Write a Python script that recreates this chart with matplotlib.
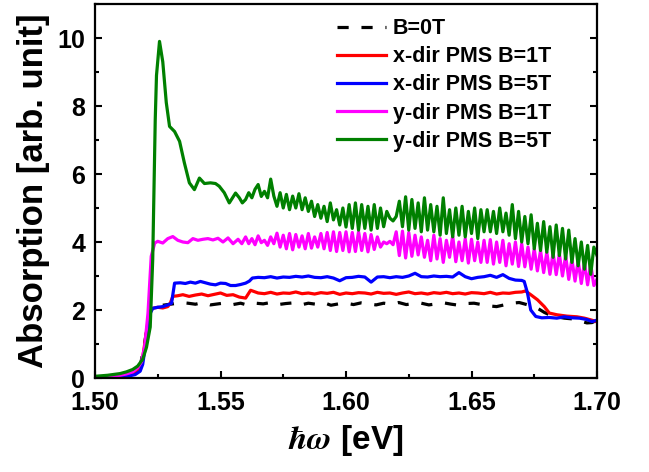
import numpy as np
import matplotlib
matplotlib.use("Agg")
import matplotlib.pyplot as plt
from matplotlib.ticker import MultipleLocator, FormatStrFormatter

plt.rcParams['font.family'] = ['Liberation Sans', 'DejaVu Sans']
plt.rcParams['font.weight'] = 'bold'
plt.rcParams['mathtext.fontset'] = 'stix'

labels = ["B=0T", "x-dir PMS B=1T", "x-dir PMS B=5T", "y-dir PMS B=1T", "y-dir PMS B=5T"]
colors = ["black", "#ff0000", "#0000ff", "#ff00ff", "#008000"]

# ---- B=0T (black dashed)
x_b0 = [1.500, 1.505, 1.510, 1.513, 1.516, 1.518, 1.5195, 1.521, 1.522, 1.523,
        1.525,
        1.528, 1.531, 1.534, 1.537, 1.540, 1.543, 1.546, 1.549, 1.552, 1.555,
        1.558, 1.561, 1.564, 1.567, 1.570, 1.573, 1.576, 1.579, 1.582, 1.585,
        1.588, 1.591, 1.594, 1.597, 1.600, 1.603, 1.606, 1.609, 1.612, 1.615,
        1.618, 1.621, 1.624, 1.627, 1.630, 1.633, 1.636, 1.639, 1.642, 1.645,
        1.648, 1.651, 1.654, 1.657, 1.660, 1.663, 1.666, 1.669, 1.672,
        1.675, 1.677, 1.679, 1.681, 1.684, 1.687, 1.690, 1.693, 1.696, 1.698, 1.700]
y_b0 = [0.02, 0.03, 0.05, 0.08, 0.15, 0.35, 0.9, 1.6, 1.95, 2.08,
        2.12,
        2.15, 2.18, 2.22, 2.20, 2.17, 2.22, 2.15, 2.18, 2.21, 2.16,
        2.20, 2.14, 2.20, 2.18, 2.22, 2.16, 2.19, 2.21, 2.15, 2.20,
        2.17, 2.22, 2.14, 2.18, 2.20, 2.16, 2.21, 2.18, 2.15, 2.20,
        2.17, 2.22, 2.16, 2.19, 2.20, 2.15, 2.18, 2.21, 2.17, 2.14,
        2.19, 2.20, 2.16, 2.12, 2.10, 2.15, 2.20, 2.22, 2.16,
        2.10, 2.02, 1.93, 1.86, 1.80, 1.76, 1.74, 1.68, 1.62, 1.63, 1.70]

# ---- x-dir B=1T (red)
x_x1 = [1.500, 1.505, 1.510, 1.513, 1.516, 1.518, 1.519, 1.520, 1.521, 1.522,
        1.523, 1.525, 1.527, 1.529, 1.530, 1.531, 1.533, 1.535, 1.5375, 1.540,
        1.5425, 1.545, 1.5475, 1.550, 1.5525, 1.555, 1.5575, 1.560, 1.562,
        1.565, 1.5675, 1.570, 1.5725, 1.575, 1.5775, 1.580, 1.5825, 1.585, 1.5875,
        1.590, 1.5925, 1.595, 1.5975, 1.600, 1.6025, 1.605, 1.6075, 1.610, 1.6125,
        1.615, 1.6175, 1.620, 1.6225, 1.625, 1.6275, 1.630, 1.6325, 1.635, 1.6375,
        1.640, 1.6425, 1.645, 1.6475, 1.650, 1.6525, 1.655, 1.6575, 1.660, 1.6625,
        1.665, 1.6675, 1.670,
        1.6715, 1.6736, 1.6763, 1.679, 1.681, 1.684, 1.688, 1.692, 1.695, 1.698, 1.700]
y_x1 = [0.0, 0.02, 0.04, 0.07, 0.14, 0.3, 0.6, 1.1, 1.6, 1.95,
        2.05, 2.08, 2.06, 2.10, 2.20, 2.40, 2.42, 2.45, 2.40, 2.44,
        2.47, 2.42, 2.46, 2.50, 2.43, 2.45, 2.38, 2.35, 2.58,
        2.50, 2.48, 2.52, 2.47, 2.50, 2.49, 2.53, 2.48, 2.50, 2.47,
        2.51, 2.49, 2.52, 2.46, 2.50, 2.48, 2.51, 2.50, 2.47, 2.52,
        2.49, 2.50, 2.46, 2.50, 2.53, 2.48, 2.50, 2.47, 2.51, 2.49,
        2.52, 2.48, 2.50, 2.47, 2.51, 2.50, 2.48, 2.52, 2.47, 2.50,
        2.49, 2.52, 2.53,
        2.56, 2.45, 2.30, 2.10, 1.91, 1.86, 1.82, 1.80, 1.76, 1.70, 1.65]

# ---- x-dir B=5T (blue)
x_x5 = [1.500, 1.505, 1.510, 1.513, 1.516, 1.518, 1.519, 1.520, 1.521, 1.522,
        1.523, 1.525, 1.527, 1.529, 1.5305, 1.5317, 1.534, 1.536, 1.538, 1.540,
        1.542, 1.544, 1.546, 1.548, 1.550, 1.552, 1.554, 1.556, 1.558, 1.560,
        1.5615, 1.5627,
        1.565, 1.5675, 1.570, 1.5725, 1.575, 1.5775, 1.580, 1.5825, 1.585, 1.5875,
        1.590, 1.5925, 1.595, 1.5975, 1.600, 1.6025, 1.605, 1.6075, 1.610, 1.6125,
        1.615, 1.6175, 1.620, 1.6225, 1.625, 1.6275, 1.630, 1.6325, 1.635, 1.6375,
        1.640, 1.6425, 1.645, 1.6475, 1.650, 1.6525, 1.655, 1.6575, 1.660, 1.6625,
        1.665, 1.6675, 1.670,
        1.671, 1.6723, 1.6736, 1.6756, 1.678, 1.681, 1.684, 1.687, 1.690, 1.693,
        1.696, 1.698, 1.700]
y_x5 = [0.0, 0.01, 0.03, 0.05, 0.10, 0.20, 0.40, 0.90, 1.50, 1.90,
        2.05, 2.08, 2.10, 2.15, 2.20, 2.79, 2.80, 2.78, 2.82, 2.79,
        2.84, 2.80, 2.76, 2.74, 2.79, 2.78, 2.72, 2.72, 2.75, 2.79,
        2.85, 2.94,
        2.96, 2.95, 2.98, 2.94, 2.97, 2.96, 2.99, 2.97, 3.00, 2.96,
        2.95, 2.98, 2.94, 2.86, 2.95, 2.96, 2.99, 2.97, 2.82, 2.97,
        2.98, 2.95, 2.98, 2.96, 3.00, 3.08, 2.98, 2.97, 3.00, 2.98,
        2.99, 2.97, 3.10, 2.98, 2.92, 2.96, 2.98, 3.02, 2.96, 3.04,
        2.93, 2.88, 2.87,
        2.84, 2.50, 2.00, 1.81, 1.77, 1.78, 1.76, 1.80, 1.77, 1.76,
        1.72, 1.66, 1.70]

# ---- y-dir B=1T (magenta): onset part, then regular 0.00125 eV sampling
x_y1_onset = [1.500, 1.505, 1.510, 1.5125, 1.515, 1.517, 1.5185, 1.5198, 1.5211, 1.5224,
              1.5238, 1.525, 1.527, 1.529, 1.531, 1.533, 1.535, 1.537, 1.539, 1.541,
              1.543, 1.545, 1.547, 1.549, 1.551, 1.553, 1.555, 1.557, 1.5585]
y_y1_onset = [0.03, 0.05, 0.08, 0.12, 0.18, 0.30, 0.47, 0.93, 1.90, 3.58,
              3.97, 4.02, 3.97, 4.10, 4.16, 4.05, 4.00, 3.98, 4.10, 4.05,
              4.08, 4.10, 4.06, 4.11, 4.00, 4.12, 3.95, 4.08, 3.95]
y_y1_tail = [4.15, 3.95, 4.10, 3.92, 4.18, 3.98, 4.05, 3.90, 4.15, 3.95,
             4.26, 3.85, 4.20, 3.80, 4.25, 3.77, 4.22, 3.85, 4.18, 3.80, 4.25, 3.82, 4.15,
             3.85, 4.25, 3.80, 4.28, 3.75, 4.30, 3.72, 4.28, 3.75, 4.30, 3.71,
             4.28, 3.72, 4.30, 3.75, 4.25, 3.71, 4.22, 3.78, 4.15, 3.85,
             4.00, 3.95, 4.02, 3.92,
             4.30, 3.60, 4.32, 3.53, 4.28, 3.58, 4.20, 3.62,
             4.15, 3.55, 4.05, 3.45, 4.20, 3.50, 4.10, 3.40, 4.05, 3.55, 4.18, 3.42,
             4.00, 3.45, 4.10, 3.38, 4.08, 3.45, 4.00, 3.40, 4.05,
             3.40, 4.07, 3.35, 4.00, 3.40, 4.05, 3.30, 3.95, 3.35, 4.00, 3.28, 3.95,
             3.27, 3.85, 3.20, 3.80, 3.15, 3.75, 3.10, 3.70, 3.05, 3.68, 3.04, 3.65,
             3.00, 3.60, 2.90, 3.50, 2.85, 3.45, 2.78, 3.40, 2.74, 3.35, 2.72, 2.90]

# ---- y-dir B=5T (green): onset/peak part, then regular 0.00125 eV sampling
x_y5_onset = [1.500, 1.505, 1.510, 1.5125, 1.515, 1.517, 1.519, 1.5205, 1.522, 1.523,
              1.524, 1.5245, 1.5257, 1.527, 1.5284, 1.5297, 1.5317, 1.5337, 1.5356, 1.5376,
              1.5396, 1.5416, 1.5436, 1.546, 1.548, 1.5495, 1.5515, 1.5535, 1.556, 1.5575, 1.5587]
y_y5_onset = [0.05, 0.08, 0.13, 0.18, 0.25, 0.35, 0.55, 0.90, 1.50, 3.50,
              7.60, 8.90, 9.90, 9.30, 8.10, 7.40, 7.25, 6.96, 6.33, 5.74,
              5.54, 5.88, 5.72, 5.74, 5.72, 5.64, 5.45, 5.15, 5.44, 5.30, 5.15]
y_y5_tail = [5.25, 5.45, 5.30, 5.55, 5.69, 5.34, 5.49, 5.30, 5.85, 5.35, 5.05,
             5.45, 5.00, 5.40, 4.95, 5.35, 5.00, 5.42, 4.95, 5.30, 4.90,
             5.20, 4.75, 5.10, 4.70, 5.05, 4.60, 5.15, 4.65, 4.95, 4.50, 5.00, 4.44, 5.10,
             4.40, 5.15, 4.35, 5.10, 4.40, 5.05, 4.35, 5.10, 4.40, 5.00, 4.45, 4.90,
             4.70, 4.62, 4.75,
             5.20, 4.45, 5.33, 4.35, 5.25, 4.40, 5.15, 4.30, 5.30, 4.35, 5.10,
             4.30, 5.05, 4.20, 5.30, 4.25, 4.95, 4.15, 5.00, 4.20, 5.05, 4.15, 4.90,
             4.25, 5.00, 4.10, 4.95, 4.30,
             4.95, 4.30, 4.90, 4.25, 5.00, 4.30, 4.85, 4.20, 5.10, 4.10, 4.90, 4.00,
             4.75, 3.95, 4.80, 3.80, 4.55, 3.75, 4.60, 3.70, 4.45, 3.55, 4.50, 3.60,
             4.40, 3.50, 4.35, 3.40, 4.10, 3.30, 4.00, 3.20, 3.90, 3.05, 3.85, 3.60]

x_tail = np.linspace(1.56, 1.70, len(y_y5_tail))
x_y1 = list(x_y1_onset) + list(x_tail)
y_y1 = y_y1_onset + y_y1_tail
x_y5 = list(x_y5_onset) + list(x_tail)
y_y5 = y_y5_onset + y_y5_tail

fig = plt.figure(figsize=(6.49, 4.72), dpi=100)
ax = fig.add_axes([95/649, 94/472, 502/649, 374/472])

lw = 2.3
ax.plot(x_b0, y_b0, color=colors[0], lw=lw, dashes=(3.5, 4.0), label=labels[0])
ax.plot(x_x1, y_x1, color=colors[1], lw=lw, label=labels[1])
ax.plot(x_x5, y_x5, color=colors[2], lw=lw, label=labels[2])
ax.plot(x_y1, y_y1, color=colors[3], lw=lw, label=labels[3])
ax.plot(x_y5, y_y5, color=colors[4], lw=lw, label=labels[4])

ax.set_xlim(1.50, 1.70)
ax.set_ylim(0, 11)
ax.xaxis.set_major_locator(MultipleLocator(0.05))
ax.xaxis.set_minor_locator(MultipleLocator(0.025))
ax.xaxis.set_major_formatter(FormatStrFormatter('%.2f'))
ax.yaxis.set_major_locator(MultipleLocator(2))
ax.yaxis.set_minor_locator(MultipleLocator(1))
ax.tick_params(which='both', direction='in', width=1.5, right=True, top=False,
               labelsize=18)
ax.tick_params(which='major', length=5)
ax.tick_params(which='minor', length=3)
ax.tick_params(axis='x', pad=9)
ax.tick_params(axis='y', pad=7)
for s in ax.spines.values():
    s.set_linewidth(1.6)
for t in ax.get_xticklabels() + ax.get_yticklabels():
    t.set_fontweight('bold')

ax.set_ylabel("Absorption [arb. unit]", fontsize=25, fontweight='bold', labelpad=5)
ax.set_xlabel(r"$\hbar\omega$ [eV]", fontsize=24, fontweight='bold', labelpad=6)

leg = ax.legend(loc='upper left', bbox_to_anchor=(0.482, 0.962), frameon=False,
                fontsize=15.5, handlelength=2.3, handletextpad=0.3, labelspacing=0.33,
                borderpad=0, borderaxespad=0)
for t in leg.get_texts():
    t.set_fontweight('bold')

fig.savefig("out.png", dpi=100)
